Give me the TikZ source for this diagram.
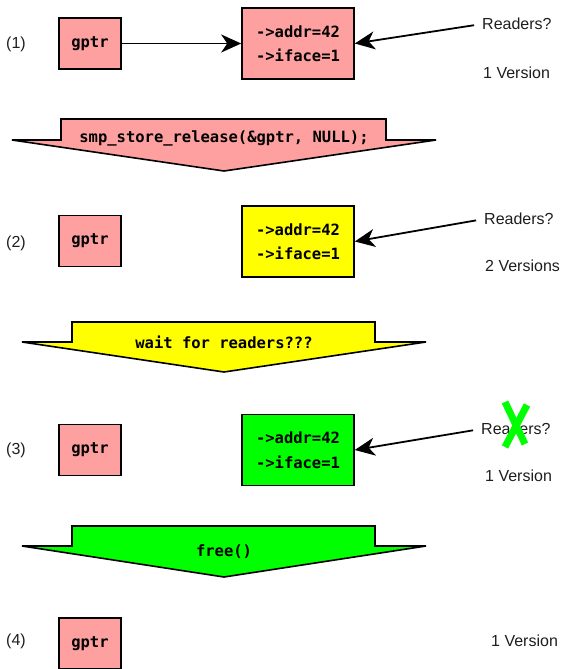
\documentclass[tikz,border=0pt]{standalone}
\usepackage{fontspec}
\setmainfont{Liberation Sans}
\setmonofont{DejaVu Sans Mono}
\usetikzlibrary{arrows.meta, positioning}
\definecolor{PtrRed}{RGB}{255,160,160}
\definecolor{OldYellow}{RGB}{255,255,0}
\definecolor{FreeGreen}{RGB}{0,255,0}
\definecolor{TextGray}{RGB}{30,30,30}

\begin{document}
\begin{tikzpicture}[
    x=1pt, y=-1pt,
    font=\fontsize{16}{19}\selectfont, text=TextGray,
    ptr/.style={draw=black, line width=1.6pt, fill=PtrRed, minimum width=62pt,
        minimum height=51pt, inner sep=0pt, text=black,
        font=\ttfamily\bfseries\fontsize{15.5}{18}\selectfont},
    obj/.style={draw=black, line width=1.6pt, minimum width=112pt,
        minimum height=71pt, inner sep=0pt, align=left, text=black,
        font=\ttfamily\bfseries\fontsize{15.5}{24.5}\selectfont},
    txt/.style={inner sep=0pt},
    reader/.style={txt, anchor=west},
    link/.style={line width=1.8pt, -{Stealth[length=20pt, width=18pt, inset=6pt]}},
    bigarrow/.style={draw=black, line width=1.6pt, line join=miter},
    stepcode/.style={txt, anchor=base, text=black,
        font=\ttfamily\bfseries\fontsize{15.5}{18}\selectfont},
]
\useasboundingbox (0,0) rectangle (561,669);

% Punteros y numeracion de cada paso
\foreach \y/\ly [count=\i] in {43.5/44, 241/243, 450/450, 643.5/641}{
    \node[ptr] (gptr\i) at (90,\y) {gptr};
    \node[txt] (lbl\i) at (16,\ly) {(\i)};
}

% Estructuras apuntadas
\foreach \y/\col [count=\i] in {43.5/PtrRed, 241.5/OldYellow, 450/FreeGreen}{
    \node[obj, fill=\col] (obj\i) at (298,\y) {->addr=42\\->iface=1};
}

\draw[link] (gptr1) -- (obj1);

% Lectores
\foreach \x/\y [count=\i] in {482/24, 484/219, 481/429}{
    \node[reader] (rd\i) at (\x,\y) {Readers?};
    \draw[link, shorten <=8pt] (rd\i.west) -- (obj\i.east);
}

% Numero de versiones
\foreach \x/\y/\t [count=\i] in {483/73/1 Version, 485/266/2 Versions,
    485/476/1 Version, 491/641/1 Version}{
    \node[reader] (ver\i) at (\x,\y) {\t};
}

% Flechas grandes entre pasos
\draw[bigarrow, fill=PtrRed] (61,119) -- (386,119) -- (386,140) -- (436,140)
    -- (224,171) -- (12,140) -- (61,140) -- cycle;
\node[stepcode] (op1) at (224,142) {smp\_store\_release(\&gptr, NULL);};

\draw[bigarrow, fill=OldYellow] (72,322) -- (375,322) -- (375,342) -- (426,342)
    -- (224,372) -- (22,342) -- (72,342) -- cycle;
\node[stepcode] (op2) at (224,348) {wait for readers???};

\draw[bigarrow, fill=FreeGreen] (72,526) -- (375,526) -- (375,546) -- (426,546)
    -- (224,577) -- (22,546) -- (72,546) -- cycle;
\node[stepcode] (op3) at (224,556) {free()};

% Lectores tachados
\draw[FreeGreen, line width=7pt] (505,402) -- (525,444);
\draw[FreeGreen, line width=7pt] (527,405) -- (505,447);

\end{tikzpicture}
\end{document}
